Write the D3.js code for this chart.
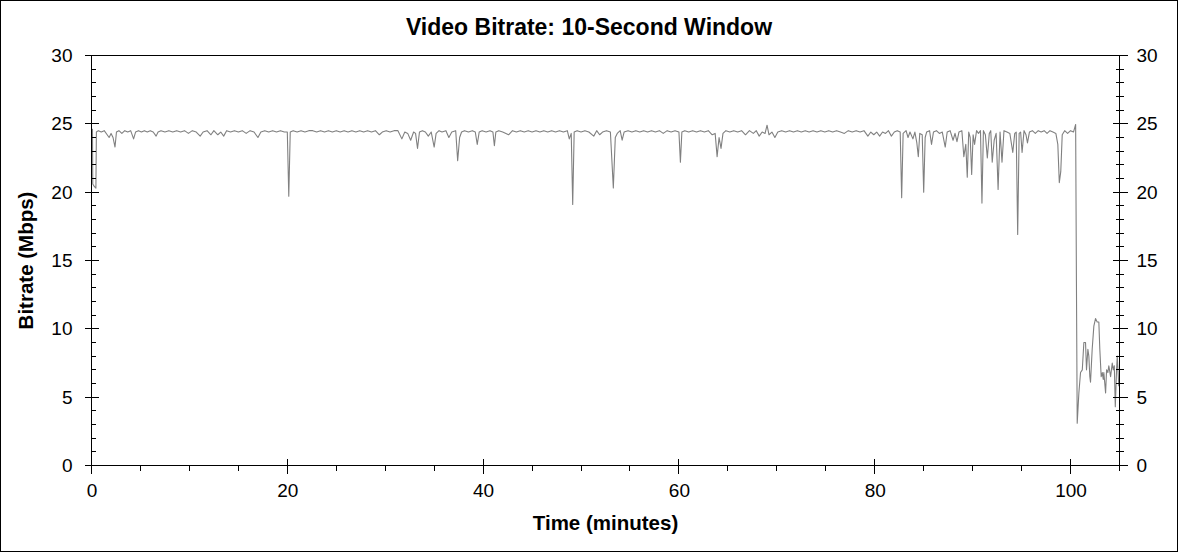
<!DOCTYPE html>
<html><head><meta charset="utf-8">
<script src="https://cdn.jsdelivr.net/npm/d3@7"></script>
<style>
body{margin:0;background:#fff}
svg{display:block}
text{font-family:"Liberation Sans",Arial,sans-serif;fill:#000}
</style>
</head><body>
<svg id="c" width="1178" height="552"></svg>
<script>
const chartTitle = "Video Bitrate: 10-Second Window";
const xTitle = "Time (minutes)";
const yTitle = "Bitrate (Mbps)";
const xMajorTicks = [0, 20, 40, 60, 80, 100];
const xMinorTicks = [5, 10, 15, 25, 30, 35, 45, 50, 55, 65, 70, 75, 85, 90, 95, 105];
const yMajorTicks = [0, 5, 10, 15, 20, 25, 30];
const yMinorTicks = [1,2,3,4,6,7,8,9,11,12,13,14,16,17,18,19,21,22,23,24,26,27,28,29];

// [time (minutes), bitrate (Mbps)]
const bitrateSeries = [
[0,24.5],[0.1,24.6],[0.13,20.6],[0.3,20.4],[0.45,20.3],[0.5,24.4],[0.7,24.5],[1.0,24.4],[1.3,24.5],[1.6,24.2],[1.8,24.0],[2.0,24.3],[2.2,24.0],[2.4,23.3],[2.55,24.4],[2.8,24.5],[3.1,24.3],[3.4,24.5],[3.7,24.4],[4.0,24.5],[4.3,23.9],[4.5,24.4],[4.8,24.5],[5.1,24.4],[5.4,24.5],[5.7,24.4],[6.0,24.5],[6.3,24.4],[6.6,24.1],[6.8,24.4],[7.1,24.5],[7.5,24.4],[7.9,24.5],[8.3,24.4],[8.7,24.5],[9.1,24.4],[9.5,24.5],[9.9,24.3],[10.3,24.5],[10.7,24.4],[11.1,24.1],[11.4,24.4],[11.8,24.5],[12.2,24.2],[12.5,24.5],[12.9,24.2],[13.2,24.4],[13.5,24.1],[13.8,24.5],[14.2,24.4],[14.6,24.5],[15.0,24.4],[15.4,24.5],[15.8,24.3],[16.2,24.5],[16.6,24.4],[17.0,24.0],[17.3,24.4],[17.7,24.5],[18.1,24.4],[18.5,24.5],[18.9,24.4],[19.3,24.5],[19.7,24.4],[20.0,24.4],[20.15,19.7],[20.3,24.4],[20.6,24.5],[21.0,24.4],
[21.4,24.5],[21.8,24.4],[22.2,24.5],[22.6,24.5],[23.0,24.4],[23.4,24.5],[23.8,24.4],[24.2,24.5],[24.6,24.4],[25.0,24.5],[25.4,24.4],[25.8,24.5],[26.2,24.4],[26.6,24.5],[27.0,24.4],[27.4,24.5],[27.8,24.4],[28.2,24.5],[28.6,24.4],[29.0,24.5],[29.4,24.2],[29.7,24.4],[30.1,24.5],[30.5,24.4],[30.9,24.5],[31.3,24.5],[31.7,23.9],[32.0,24.4],[32.3,24.3],[32.6,23.8],[32.9,24.4],[33.1,24.3],[33.3,23.2],[33.5,24.4],[33.8,24.5],[34.1,24.4],[34.4,24.1],[34.7,24.4],[35.0,23.3],[35.2,24.3],[35.5,24.5],[35.8,24.4],[36.2,24.5],[36.5,24.0],[36.8,24.4],[37.2,24.5],[37.4,22.3],[37.6,24.0],[37.8,24.4],[38.1,24.5],[38.5,24.4],[38.9,24.5],[39.2,24.4],[39.4,23.5],[39.6,24.4],[39.9,24.5],[40.3,24.4],[40.7,24.5],[41.0,24.4],[41.15,23.4],[41.3,24.4],[41.6,24.5],[42.0,24.4],[42.6,24.2],[43.0,24.5],[43.4,24.4],
[43.8,24.5],[44.2,24.4],[44.6,24.5],[45.0,24.4],[45.4,24.5],[45.8,24.4],[46.2,24.5],[46.6,24.4],[47.0,24.5],[47.4,24.4],[47.8,24.5],[48.2,24.4],[48.6,24.5],[48.8,23.9],[49.0,24.3],[49.15,19.1],[49.3,24.4],[49.6,24.5],[50.0,24.4],[50.4,24.5],[50.8,24.4],[51.3,24.1],[51.6,24.5],[51.9,24.2],[52.2,24.4],[52.6,24.5],[53.0,24.4],[53.3,20.3],[53.5,24.0],[53.7,24.3],[54.0,24.5],[54.2,23.8],[54.4,24.4],[54.8,24.5],
[55.2,24.4],[55.6,24.5],[56.0,24.4],[56.4,24.5],[56.8,24.4],[57.2,24.5],[57.6,24.4],[58.0,24.5],[58.4,24.3],[58.8,24.5],[59.2,24.4],[59.6,24.5],[60.0,24.4],[60.15,22.2],[60.3,24.4],[60.6,24.5],[61.0,24.4],[61.4,24.5],[61.8,24.4],[62.2,24.5],[62.6,24.4],[63.0,24.5],[63.4,24.2],[63.7,24.3],[63.9,22.6],[64.1,24.0],[64.3,23.2],[64.5,24.3],[64.8,24.5],[65.2,24.4],[65.6,24.5],[66.0,24.4],[66.4,24.5],[66.8,24.2],[67.2,24.5],[67.6,24.3],[67.9,24.5],[68.2,24.1],[68.5,24.4],[68.8,24.3],[69.0,24.9],[69.2,24.2],[69.5,24.4],[69.8,24.0],[70.1,24.4],[70.5,24.5],[70.9,24.4],[71.3,24.5],
[71.7,24.4],[72.1,24.5],[72.5,24.4],[72.9,24.5],[73.3,24.4],[73.7,24.5],[74.1,24.4],[74.5,24.5],[74.9,24.4],[75.3,24.5],[75.7,24.4],[76.1,24.5],[76.5,24.4],[76.9,24.3],[77.3,24.5],[77.7,24.4],[78.1,24.5],[78.5,24.4],[78.9,24.5],[79.3,24.1],[79.6,24.4],[79.9,24.2],[80.2,24.4],[80.5,24.1],[80.8,24.4],[81.1,24.3],[81.4,24.5],[81.7,24.1],[82.0,24.4],[82.3,24.5],[82.6,24.4],[82.75,19.6],[82.9,24.3],
[83.2,24.5],[83.4,24.0],[83.6,24.4],[83.9,23.9],[84.1,24.4],[84.3,23.6],[84.45,22.6],[84.6,24.3],[84.85,24.2],[85.0,20.0],[85.15,24.0],[85.3,24.4],[85.6,24.5],[85.8,23.5],[86.0,24.4],[86.3,24.5],[86.6,24.3],[86.9,24.4],[87.2,23.3],[87.4,24.4],[87.7,24.5],[88.0,23.8],[88.2,24.3],[88.4,23.7],[88.6,24.4],[88.9,24.5],[89.1,22.6],[89.3,23.5],[89.45,21.1],[89.6,24.4],[89.75,24.0],[89.9,21.3],[90.05,24.2],[90.2,23.5],[90.4,24.5],[90.6,24.3],[90.8,24.5],[90.95,19.2],[91.1,24.5],[91.3,24.2],[91.5,22.5],[91.7,24.3],[91.85,24.5],[92.0,22.2],[92.2,23.8],[92.4,24.3],[92.6,20.2],[92.8,24.4],[93.0,22.2],[93.2,24.5],[93.5,24.4],[93.8,24.3],[94.1,22.9],[94.3,24.3],[94.45,24.4],[94.6,16.9],[94.75,24.3],[94.9,24.4],[95.05,22.9],[95.25,24.5],[95.45,24.2],[95.6,23.6],[95.8,24.4],[96.1,24.5],[96.4,24.3],[96.7,24.5],[97.0,24.4],[97.3,24.5],[97.6,24.3],[97.9,24.5],[98.2,24.4],[98.5,24.3],[98.7,23.5],[98.85,20.7],[99.0,21.5],[99.15,24.2],[99.4,24.5],[99.7,24.3],[100.0,24.5],[100.3,24.4],[100.52,24.95],[100.6,13.5],[100.68,3.1],
[100.85,5.3],[101.02,6.8],[101.2,7.0],[101.36,9.0],[101.53,9.0],[101.63,7.0],[101.77,8.5],[101.87,8.0],[101.97,6.5],[102.04,6.1],[102.21,8.5],[102.38,10.2],[102.55,10.75],[102.72,10.5],[102.89,10.5],[102.99,8.5],[103.13,6.5],[103.24,6.8],[103.34,6.3],[103.4,6.8],[103.58,5.3],[103.68,7.0],[103.81,6.8],[103.91,7.3],[104.09,6.5],[104.26,7.5],[104.36,7.0],[104.47,7.3],[104.57,4.3],[104.7,7.0],[104.77,8.0],[104.93,5.8]
];

const W = 1178, H = 552;
const plot = {left: 91.5, right: 1119.5, top: 55.5, bottom: 465.5};
const svg = d3.select("#c");

svg.append("rect").attr("x",0.5).attr("y",0.5).attr("width",W-1).attr("height",H-1)
  .attr("fill","#fff").attr("stroke","#000").attr("stroke-width",1);

const x = d3.scaleLinear().domain([0,105]).range([plot.left, plot.right]);
const y = d3.scaleLinear().domain([0,30]).range([plot.bottom, plot.top]);

// data line
const line = d3.line().x(d => x(d[0])).y(d => y(d[1]));
svg.append("path").datum(bitrateSeries).attr("d", line)
  .attr("fill","none").attr("stroke","#808080").attr("stroke-width",1.1).attr("stroke-linejoin","round");

// frame
const g = svg.append("g").attr("stroke","#000").attr("stroke-width",1).attr("shape-rendering","crispEdges");
g.append("line").attr("x1",plot.left).attr("x2",plot.right).attr("y1",plot.top).attr("y2",plot.top);
g.append("line").attr("x1",plot.left).attr("x2",plot.right).attr("y1",plot.bottom).attr("y2",plot.bottom);
g.append("line").attr("x1",plot.left).attr("x2",plot.left).attr("y1",plot.top).attr("y2",plot.bottom);
g.append("line").attr("x1",plot.right).attr("x2",plot.right).attr("y1",plot.top).attr("y2",plot.bottom);

const tickFont = "19px";

// left axis
const leftAxis = svg.append("g").attr("transform",`translate(${plot.left},0)`);
leftAxis.call(d3.axisLeft(y).tickValues(yMajorTicks).tickSize(0).tickPadding(19).tickFormat(d3.format("d")));
leftAxis.select(".domain").remove();
leftAxis.selectAll("text").attr("font-size",tickFont).attr("font-family","'Liberation Sans',Arial,sans-serif");
g.selectAll(".lmaj").data(yMajorTicks).join("line").attr("x1",plot.left-7).attr("x2",plot.left+7)
  .attr("y1",d=>Math.round(y(d)-0.5)+0.5).attr("y2",d=>Math.round(y(d)-0.5)+0.5);
g.selectAll(".lmin").data(yMinorTicks).join("line").attr("x1",plot.left).attr("x2",plot.left+4)
  .attr("y1",d=>Math.round(y(d)-0.5)+0.5).attr("y2",d=>Math.round(y(d)-0.5)+0.5);

// right axis
const rightAxis = svg.append("g").attr("transform",`translate(${plot.right},0)`);
rightAxis.call(d3.axisRight(y).tickValues(yMajorTicks).tickSize(0).tickPadding(17).tickFormat(d3.format("d")));
rightAxis.select(".domain").remove();
rightAxis.selectAll("text").attr("font-size",tickFont).attr("font-family","'Liberation Sans',Arial,sans-serif");
g.selectAll(".rmaj").data(yMajorTicks).join("line").attr("x1",plot.right-7).attr("x2",plot.right+8)
  .attr("y1",d=>Math.round(y(d)-0.5)+0.5).attr("y2",d=>Math.round(y(d)-0.5)+0.5);
g.selectAll(".rmin").data(yMinorTicks).join("line").attr("x1",plot.right-4).attr("x2",plot.right+4)
  .attr("y1",d=>Math.round(y(d)-0.5)+0.5).attr("y2",d=>Math.round(y(d)-0.5)+0.5);

// bottom axis
const bottomAxis = svg.append("g").attr("transform",`translate(0,${plot.bottom})`);
bottomAxis.call(d3.axisBottom(x).tickValues(xMajorTicks).tickSize(0).tickPadding(18).tickFormat(d3.format("d")));
bottomAxis.select(".domain").remove();
bottomAxis.selectAll("text").attr("font-size",tickFont).attr("font-family","'Liberation Sans',Arial,sans-serif");
g.selectAll(".bmaj").data(xMajorTicks).join("line")
  .attr("x1",d=>Math.round(x(d)-0.5)+0.5).attr("x2",d=>Math.round(x(d)-0.5)+0.5)
  .attr("y1",plot.bottom-7).attr("y2",plot.bottom+8);
g.selectAll(".bmin").data(xMinorTicks).join("line")
  .attr("x1",d=>Math.round(x(d)-0.5)+0.5).attr("x2",d=>Math.round(x(d)-0.5)+0.5)
  .attr("y1",plot.bottom).attr("y2",plot.bottom+5);

// titles
svg.append("text").attr("x",W/2).attr("y",35).attr("text-anchor","middle")
  .attr("font-size","23px").attr("font-weight","bold").text(chartTitle);
svg.append("text").attr("x",(plot.left+plot.right)/2).attr("y",530).attr("text-anchor","middle")
  .attr("font-size","20.5px").attr("font-weight","bold").text(xTitle);
svg.append("text").attr("transform",`translate(33,${(plot.top+plot.bottom)/2}) rotate(-90)`)
  .attr("text-anchor","middle").attr("font-size","20.5px").attr("font-weight","bold").text(yTitle);
</script>
</body></html>
